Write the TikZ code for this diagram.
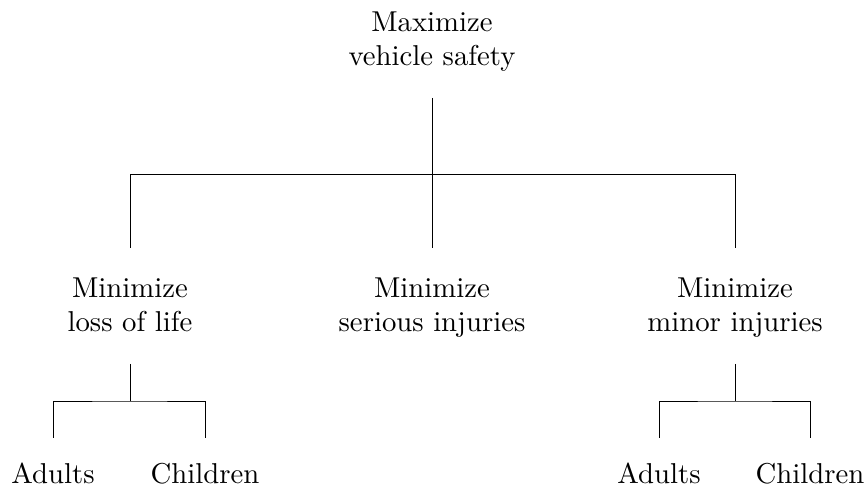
\documentclass[tikz,border=0pt]{standalone}
\begin{document}
\begin{tikzpicture}[x=0.3636pt,y=-0.3636pt,
  goal/.style={inner sep=0pt,anchor=base,align=center,font=\fontsize{10.45}{12.7}\selectfont},
  link/.style={line width=0.35pt}]
\useasboundingbox (0,0) rectangle (866,488);
% nodes (positions are last-line baselines)
\node[goal] (root) at (432,66) {Maximize\\vehicle safety};
\node[goal] (life) at (130,332) {Minimize\\loss of life};
\node[goal] (serious) at (432,332) {Minimize\\serious injuries};
\node[goal] (minor) at (735,332) {Minimize\\minor injuries};
\node[goal] (la) at (53,484) {Adults};
\node[goal] (lc) at (205,484) {Children};
\node[goal] (ma) at (659,484) {Adults};
\node[goal] (mc) at (810,484) {Children};
% connector anchor points
\coordinate (r0) at (432,98);
\coordinate (rbar) at (432,174);
\coordinate (l1) at (130,248);
\coordinate (s1) at (432,248);
\coordinate (m1) at (735,248);
\coordinate (l0) at (130,364);
\coordinate (lbar) at (130,401);
\coordinate (la1) at (53,438);
\coordinate (lc1) at (205,438);
\coordinate (m0) at (735,364);
\coordinate (mbar) at (735,401);
\coordinate (ma1) at (659,438);
\coordinate (mc1) at (810,438);
% top level fork
\draw[link] (r0) -- (s1);
\draw[link] (l1) |- (rbar) -| (m1);
% left fork
\draw[link] (l0) -- (lbar);
\draw[link] (la1) |- (lbar) -| (lc1);
% right fork
\draw[link] (m0) -- (mbar);
\draw[link] (ma1) |- (mbar) -| (mc1);
\end{tikzpicture}
\end{document}
